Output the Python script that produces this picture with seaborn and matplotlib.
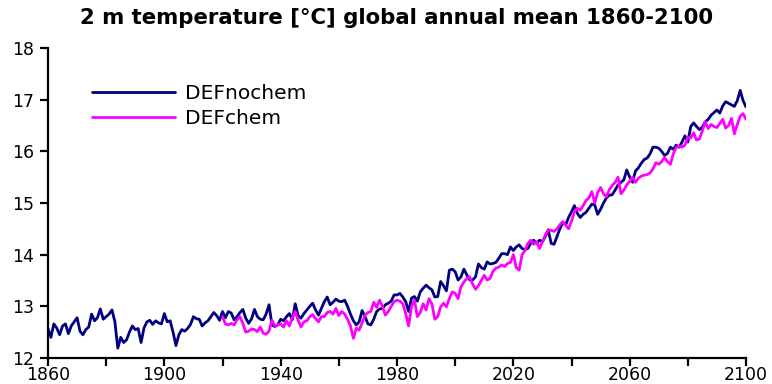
import numpy as np
import pandas as pd
import matplotlib
matplotlib.use("Agg")
import matplotlib.pyplot as plt
import seaborn as sns

# Global annual mean 2 m temperature [°C], one value per year
years_nochem = list(range(1860, 2101))
temp_nochem = [
    12.57, 12.40, 12.66, 12.58, 12.45, 12.62, 12.66, 12.47, 12.62, 12.70,  # 1860s
    12.78, 12.52, 12.45, 12.55, 12.60, 12.85, 12.72, 12.78, 12.95, 12.75,  # 1870s
    12.80, 12.85, 12.93, 12.70, 12.19, 12.40, 12.30, 12.35, 12.50, 12.62,  # 1880s
    12.55, 12.57, 12.30, 12.58, 12.70, 12.73, 12.65, 12.72, 12.68, 12.66,  # 1890s
    12.86, 12.70, 12.72, 12.50, 12.24, 12.45, 12.55, 12.52, 12.57, 12.65,  # 1900s
    12.80, 12.76, 12.75, 12.62, 12.68, 12.72, 12.80, 12.88, 12.82, 12.73,  # 1910s
    12.90, 12.78, 12.90, 12.87, 12.74, 12.80, 12.88, 12.94, 12.77, 12.67,  # 1920s
    12.76, 12.94, 12.80, 12.75, 12.74, 12.85, 13.03, 12.64, 12.61, 12.64,  # 1930s
    12.75, 12.72, 12.80, 12.86, 12.74, 13.05, 12.82, 12.77, 12.86, 12.93,  # 1940s
    13.00, 13.06, 12.93, 12.83, 12.96, 13.09, 13.18, 13.03, 13.08, 13.14,  # 1950s
    13.10, 13.09, 13.12, 13.00, 12.85, 12.72, 12.64, 12.70, 12.92, 12.80,  # 1960s
    12.66, 12.64, 12.75, 12.90, 12.95, 12.96, 13.03, 13.06, 13.10, 13.22,  # 1970s
    13.22, 13.25, 13.18, 13.09, 12.90, 13.16, 13.19, 13.10, 13.28, 13.35,  # 1980s
    13.41, 13.36, 13.32, 13.18, 13.19, 13.48, 13.40, 13.30, 13.70, 13.72,  # 1990s
    13.67, 13.51, 13.57, 13.72, 13.61, 13.51, 13.51, 13.57, 13.82, 13.75,  # 2000s
    13.72, 13.86, 13.82, 13.83, 13.85, 13.93, 14.02, 14.02, 14.00, 14.15,  # 2010s
    14.08, 14.15, 14.19, 14.12, 14.10, 14.12, 14.22, 14.28, 14.22, 14.28,  # 2020s
    14.25, 14.35, 14.48, 14.22, 14.20, 14.35, 14.50, 14.62, 14.58, 14.72,  # 2030s
    14.83, 14.95, 14.80, 14.72, 14.78, 14.82, 14.90, 14.98, 14.96, 14.78,  # 2040s
    14.88, 15.00, 15.10, 15.15, 15.16, 15.25, 15.35, 15.40, 15.45, 15.64,  # 2050s
    15.50, 15.40, 15.62, 15.68, 15.77, 15.84, 15.87, 15.95, 16.08, 16.08,  # 2060s
    16.06, 16.00, 15.92, 15.96, 16.08, 16.04, 16.12, 16.08, 16.18, 16.30,  # 2070s
    16.18, 16.48, 16.55, 16.48, 16.42, 16.47, 16.57, 16.62, 16.70, 16.75,  # 2080s
    16.80, 16.74, 16.88, 16.96, 16.93, 16.90, 16.87, 16.98, 17.18, 16.98,  # 2090s
    16.86,                                                                  # 2100
]

years_chem = list(range(1920, 2101))
temp_chem = [
    12.80, 12.66, 12.64, 12.67, 12.64, 12.74, 12.80, 12.67, 12.50, 12.52,  # 1920s
    12.56, 12.55, 12.51, 12.60, 12.48, 12.46, 12.52, 12.73, 12.62, 12.64,  # 1930s
    12.66, 12.60, 12.72, 12.62, 12.78, 12.90, 12.73, 12.60, 12.70, 12.72,  # 1940s
    12.80, 12.84, 12.76, 12.70, 12.80, 12.80, 12.88, 12.90, 12.85, 12.96,  # 1950s
    12.82, 12.90, 12.85, 12.75, 12.62, 12.38, 12.58, 12.54, 12.68, 12.83,  # 1960s
    12.88, 12.90, 13.08, 12.98, 13.12, 13.00, 12.83, 12.90, 13.00, 13.09,  # 1970s
    13.12, 13.10, 13.05, 12.86, 12.62, 13.00, 13.12, 12.80, 12.88, 13.05,  # 1980s
    12.93, 13.15, 13.05, 12.75, 12.80, 12.99, 13.06, 12.99, 13.15, 13.28,  # 1990s
    13.25, 13.15, 13.38, 13.47, 13.54, 13.57, 13.43, 13.33, 13.40, 13.50,  # 2000s
    13.60, 13.51, 13.54, 13.68, 13.74, 13.76, 13.80, 13.77, 13.83, 13.85,  # 2010s
    14.00, 13.75, 13.70, 14.00, 14.08, 14.22, 14.28, 14.20, 14.25, 14.12,  # 2020s
    14.25, 14.38, 14.48, 14.47, 14.45, 14.50, 14.58, 14.64, 14.57, 14.50,  # 2030s
    14.65, 14.83, 14.90, 14.86, 14.95, 15.05, 15.10, 15.22, 15.00, 15.20,  # 2040s
    15.30, 15.18, 15.12, 15.26, 15.34, 15.40, 15.50, 15.18, 15.25, 15.35,  # 2050s
    15.42, 15.50, 15.40, 15.48, 15.52, 15.54, 15.55, 15.58, 15.66, 15.78,  # 2060s
    15.75, 15.80, 15.88, 15.80, 15.75, 15.95, 16.08, 16.10, 16.08, 16.12,  # 2070s
    16.27, 16.26, 16.36, 16.22, 16.24, 16.40, 16.57, 16.44, 16.52, 16.48,  # 2080s
    16.46, 16.54, 16.62, 16.45, 16.50, 16.64, 16.34, 16.52, 16.68, 16.73,  # 2090s
    16.62,                                                                  # 2100
]

series_names = ["DEFnochem", "DEFchem"]
series_colors = ["#000080", "#ff00ff"]

x_ticks = list(range(1860, 2101, 20))
x_tick_labels = [str(y) if (y - 1860) % 40 == 0 else "" for y in x_ticks]
y_ticks = [12, 13, 14, 15, 16, 17, 18]

df = pd.concat([
    pd.DataFrame({"year": years_nochem, "temp": temp_nochem, "run": series_names[0]}),
    pd.DataFrame({"year": years_chem, "temp": temp_chem, "run": series_names[1]}),
], ignore_index=True)

sns.set_theme(style="ticks")
plt.rcParams["font.family"] = ["DejaVu Sans"]
plt.rcParams["text.color"] = "black"

fig = plt.figure(figsize=(7.72, 3.84), dpi=100)
ax = fig.add_axes([48 / 772, 1 - 358 / 384, 698 / 772, 310 / 384])

sns.lineplot(data=df, x="year", y="temp", hue="run", hue_order=series_names,
             palette=series_colors, linewidth=2.0, ax=ax, legend=True)

ax.set_xlim(1860, 2100)
ax.set_ylim(12, 18)
ax.set_xticks(x_ticks, labels=x_tick_labels)
ax.set_yticks(y_ticks, labels=[str(v) for v in y_ticks])
ax.set_xlabel("")
ax.set_ylabel("")
for side in ("top", "right"):
    ax.spines[side].set_visible(False)
for side in ("left", "bottom"):
    ax.spines[side].set_linewidth(1.6)
    ax.spines[side].set_color("black")
ax.tick_params(axis="both", direction="out", length=5.5, width=1.6,
               labelsize=12.5, colors="black")
ax.tick_params(axis="x", pad=0.5)
ax.tick_params(axis="y", pad=4.5)

ax.set_title("2 m temperature [°C] global annual mean 1860-2100",
             fontsize=15.3, fontweight="bold", color="black", pad=17)

leg = ax.legend(loc="upper left", bbox_to_anchor=(0.063, 0.885), frameon=False,
                fontsize=14.5, handlelength=4.1, handletextpad=0.5,
                labelspacing=0.3, borderpad=0, borderaxespad=0)
for line in leg.get_lines():
    line.set_linewidth(2.0)

fig.savefig("out.png", dpi=100, facecolor="white")
